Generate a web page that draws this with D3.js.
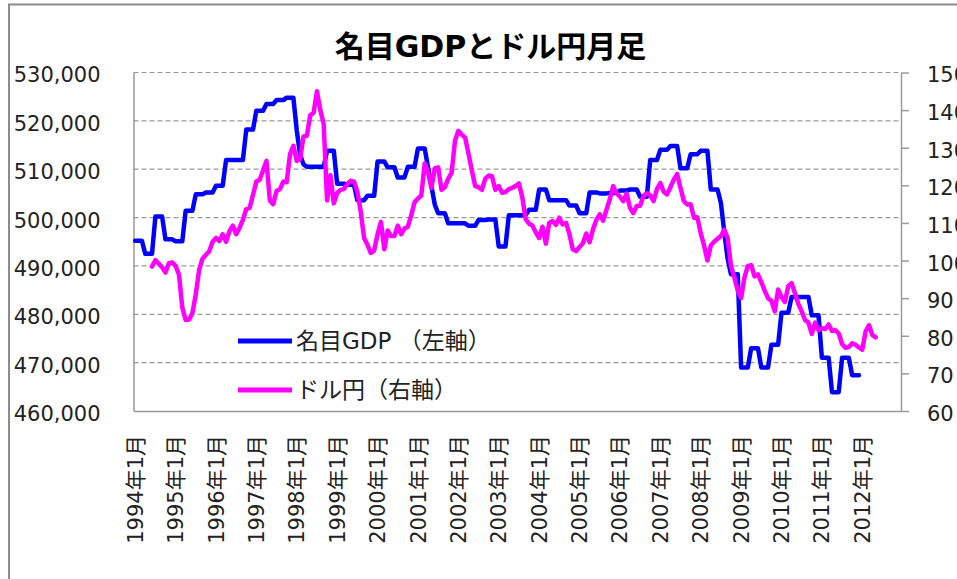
<!DOCTYPE html>
<html><head><meta charset="utf-8">
<script src="https://cdn.jsdelivr.net/npm/d3@7"></script>
<style>
body{margin:0;background:#fff;}
svg{display:block;}
text{font-family:"DejaVu Sans","Noto Sans CJK JP",sans-serif;fill:#222;}
</style></head><body>
<svg id="chart" width="957" height="579"></svg>
<script>
const chartTitle = "名目GDPとドル円月足";
const years = d3.range(1994, 2013);
const months = years.flatMap(y => d3.range(1, 13).map(m => `${y}年${m}月`));
const xTickLabels = years.map(y => `${y}年1月`);
const leftTicks = [460000, 470000, 480000, 490000, 500000, 510000, 520000, 530000];
const rightTicks = [60, 70, 80, 90, 100, 110, 120, 130, 140, 150];
const gdpName = "名目GDP （左軸）";
const fxName = "ドル円（右軸）";

// 名目GDP (monthly, 1994年1月 - 2011年12月)
const gdpStart = "1994年1月";
const gdp = [
  495200,495200,495200,492500,492500,492500,500200,500200,500200,495500,495500,495500,
  495100,495100,495100,501400,501400,501400,504800,504800,504800,505200,505200,505200,
  506600,506600,506600,511900,511900,511900,511900,511900,511900,518200,518200,518200,
  522100,522100,522100,523500,523500,523500,524300,524300,524300,524800,524800,524800,
  518000,513000,511000,510500,510500,510500,510500,510500,510500,513800,513800,513800,
  507000,507000,507000,506800,506800,506800,503600,503600,503600,504500,504500,504500,
  511600,511600,511600,510400,510400,510400,508300,508300,508300,510500,510500,510500,
  514300,514300,514300,510400,506500,502700,500900,500900,500900,498800,498800,498800,
  498800,498800,498800,498300,498300,498300,499500,499500,499500,499600,499600,499600,
  494000,494000,494000,500500,500500,500500,500500,500500,500500,501600,501600,501600,
  505800,505800,505800,503600,503600,503600,503600,503600,503600,502500,502500,502500,
  500900,500900,500900,505200,505200,505200,505000,505000,505000,505100,505100,505100,
  505600,505600,505600,505800,505800,505800,504300,504300,504300,511900,511900,511900,
  514000,514000,514000,514800,514800,514800,510200,510200,510200,513100,513100,513100,
  513800,513800,513800,505800,505800,505800,503000,497000,491500,488300,488300,488300,
  469000,469000,469000,473000,473000,473000,469000,469000,469000,473700,473700,473700,
  480300,480300,480300,483600,483600,483600,483600,483600,483600,479800,479800,479800,
  471000,471000,471000,463900,463900,463900,471000,471000,471000,467400,467400,467400
];

// ドル円 (monthly, 1994年6月 - 2012年5月)
const fxStart = "1994年6月";
const usdJpy = [
  98.4,100.1,99.2,98.2,96.8,99.3,99.5,
  98.6,96.3,87.5,84.2,84.3,86.0,91.0,97.5,100.5,101.5,102.5,105.0,
  106.0,105.2,107.0,105.0,107.8,109.3,107.0,108.7,110.8,113.7,114.0,117.5,
  121.0,121.5,124.0,126.5,116.0,115.0,118.5,119.0,121.0,120.8,128.3,130.5,
  126.5,127.0,133.0,133.2,138.6,139.3,145.0,140.0,136.3,116.0,122.7,115.2,
  118.0,118.8,119.0,120.3,121.2,121.0,118.3,113.0,106.0,104.2,102.0,102.7,
  107.0,110.3,103.0,108.0,106.5,106.5,109.3,107.0,108.5,109.0,112.0,115.5,
  116.5,117.3,125.8,123.5,119.3,124.5,124.8,118.8,119.5,121.8,123.3,131.8,
  134.5,133.5,132.7,128.5,124.0,119.8,119.5,118.8,121.8,122.6,122.4,118.8,
  119.8,118.0,118.2,119.0,119.3,119.8,120.5,116.8,111.0,109.8,109.3,107.5,
  106.0,109.0,104.5,110.0,110.5,109.5,111.4,109.6,110.0,107.0,103.0,102.5,
  103.6,104.6,107.2,104.9,108.3,110.8,112.3,110.6,113.5,116.3,119.8,117.9,
  117.0,115.8,117.8,114.0,112.6,114.5,114.6,117.2,117.9,117.4,115.8,119.0,
  120.6,118.3,117.6,119.5,121.5,123.0,119.3,115.8,114.9,115.0,111.4,111.5,
  107.3,104.0,100.0,104.0,105.0,105.8,106.5,108.2,106.0,98.5,95.5,92.0,
  90.0,95.5,98.5,98.8,95.8,96.3,94.3,92.0,90.0,89.3,86.5,92.3,
  90.3,89.0,93.2,94.0,91.3,88.5,86.5,84.2,83.5,80.5,83.5,81.5,
  82.0,81.8,83.0,81.3,81.5,80.6,77.8,76.8,77.0,78.0,77.6,76.9,
  76.3,81.2,82.8,80.2,79.6
];

const svg = d3.select("#chart");
const plot = {left: 133.5, right: 901, top: 72.5, bottom: 411};
const gray = "#9a9a9a";

// outer frame
svg.append("rect").attr("x", 9).attr("y", 4.5).attr("width", 1100).attr("height", 1000)
  .attr("fill", "none").attr("stroke", "#8c8c8c").attr("stroke-width", 2);

const x = d3.scaleBand().domain(months).range([plot.left, plot.right]).paddingInner(0).paddingOuter(0);
const xc = m => x(m) + x.bandwidth() / 2;
const yL = d3.scaleLinear().domain([460000, 530000]).range([plot.bottom, plot.top]);
const yR = d3.scaleLinear().domain([60, 150]).range([plot.bottom, plot.top]);

// title
svg.append("text").attr("x", 490.5).attr("y", 57).attr("text-anchor", "middle")
  .style("font-size", "30px").style("font-weight", "bold").style("fill", "#000").text(chartTitle);

// gridlines
svg.append("g").selectAll("line").data(leftTicks.filter(v => v > 460000)).join("line")
  .attr("x1", plot.left).attr("x2", plot.right)
  .attr("y1", d => yL(d)).attr("y2", d => yL(d))
  .attr("stroke", gray).attr("stroke-width", 1.2).attr("stroke-dasharray", "5,3");

// left axis
const gL = svg.append("g").attr("transform", `translate(${plot.left},0)`)
  .call(d3.axisLeft(yL).tickValues(leftTicks).tickSize(0).tickSizeOuter(0).tickPadding(33).tickFormat(d3.format(",")));
gL.select(".domain").attr("stroke", gray).attr("stroke-width", 1.5);
gL.selectAll("text").style("font-size", "21px").attr("dy", "0.45em").style("font-family", null);

// right axis
const gR = svg.append("g").attr("transform", `translate(${plot.right},0)`)
  .call(d3.axisRight(yR).tickValues(rightTicks).tickSize(8).tickSizeOuter(0).tickPadding(18));
gR.select(".domain").attr("stroke", gray).attr("stroke-width", 1.5);
gR.selectAll(".tick line").attr("stroke", gray).attr("stroke-width", 1.5);
gR.selectAll("text").style("font-size", "21px").attr("dy", "0.45em").style("font-family", null);

// bottom axis
const gB = svg.append("g").attr("transform", `translate(0,${plot.bottom})`)
  .call(d3.axisBottom(x).tickValues(xTickLabels).tickSize(0).tickSizeOuter(0));
gB.select(".domain").attr("stroke", gray).attr("stroke-width", 1.5);
gB.selectAll("text").attr("transform", "rotate(-90)").attr("x", -24).attr("y", 0)
  .attr("dy", "0.36em").attr("text-anchor", "end").style("font-size", "21px").style("font-family", null);

// series
const i0g = months.indexOf(gdpStart);
const i0f = months.indexOf(fxStart);
const lineG = d3.line().x((d, i) => xc(months[i0g + i])).y(d => yL(d));
const lineF = d3.line().x((d, i) => xc(months[i0f + i])).y(d => yR(d));
svg.append("path").datum(gdp).attr("d", lineG).attr("fill", "none")
  .attr("stroke", "#0000ff").attr("stroke-width", 4.5).attr("stroke-linejoin", "round").attr("stroke-linecap", "round");
svg.append("path").datum(usdJpy).attr("d", lineF).attr("fill", "none")
  .attr("stroke", "#ff00ff").attr("stroke-width", 4.5).attr("stroke-linejoin", "round").attr("stroke-linecap", "round");

// legend
const legend = [{name: gdpName, color: "#0000ff", y: 341}, {name: fxName, color: "#ff00ff", y: 390}];
const lg = svg.append("g");
lg.selectAll("line").data(legend).join("line")
  .attr("x1", 238).attr("x2", 292).attr("y1", d => d.y).attr("y2", d => d.y)
  .attr("stroke", d => d.color).attr("stroke-width", 5);
lg.selectAll("text").data(legend).join("text")
  .attr("x", 296).attr("y", d => d.y).attr("dy", "0.34em")
  .style("font-size", "23px").text(d => d.name);
</script>
</body></html>
